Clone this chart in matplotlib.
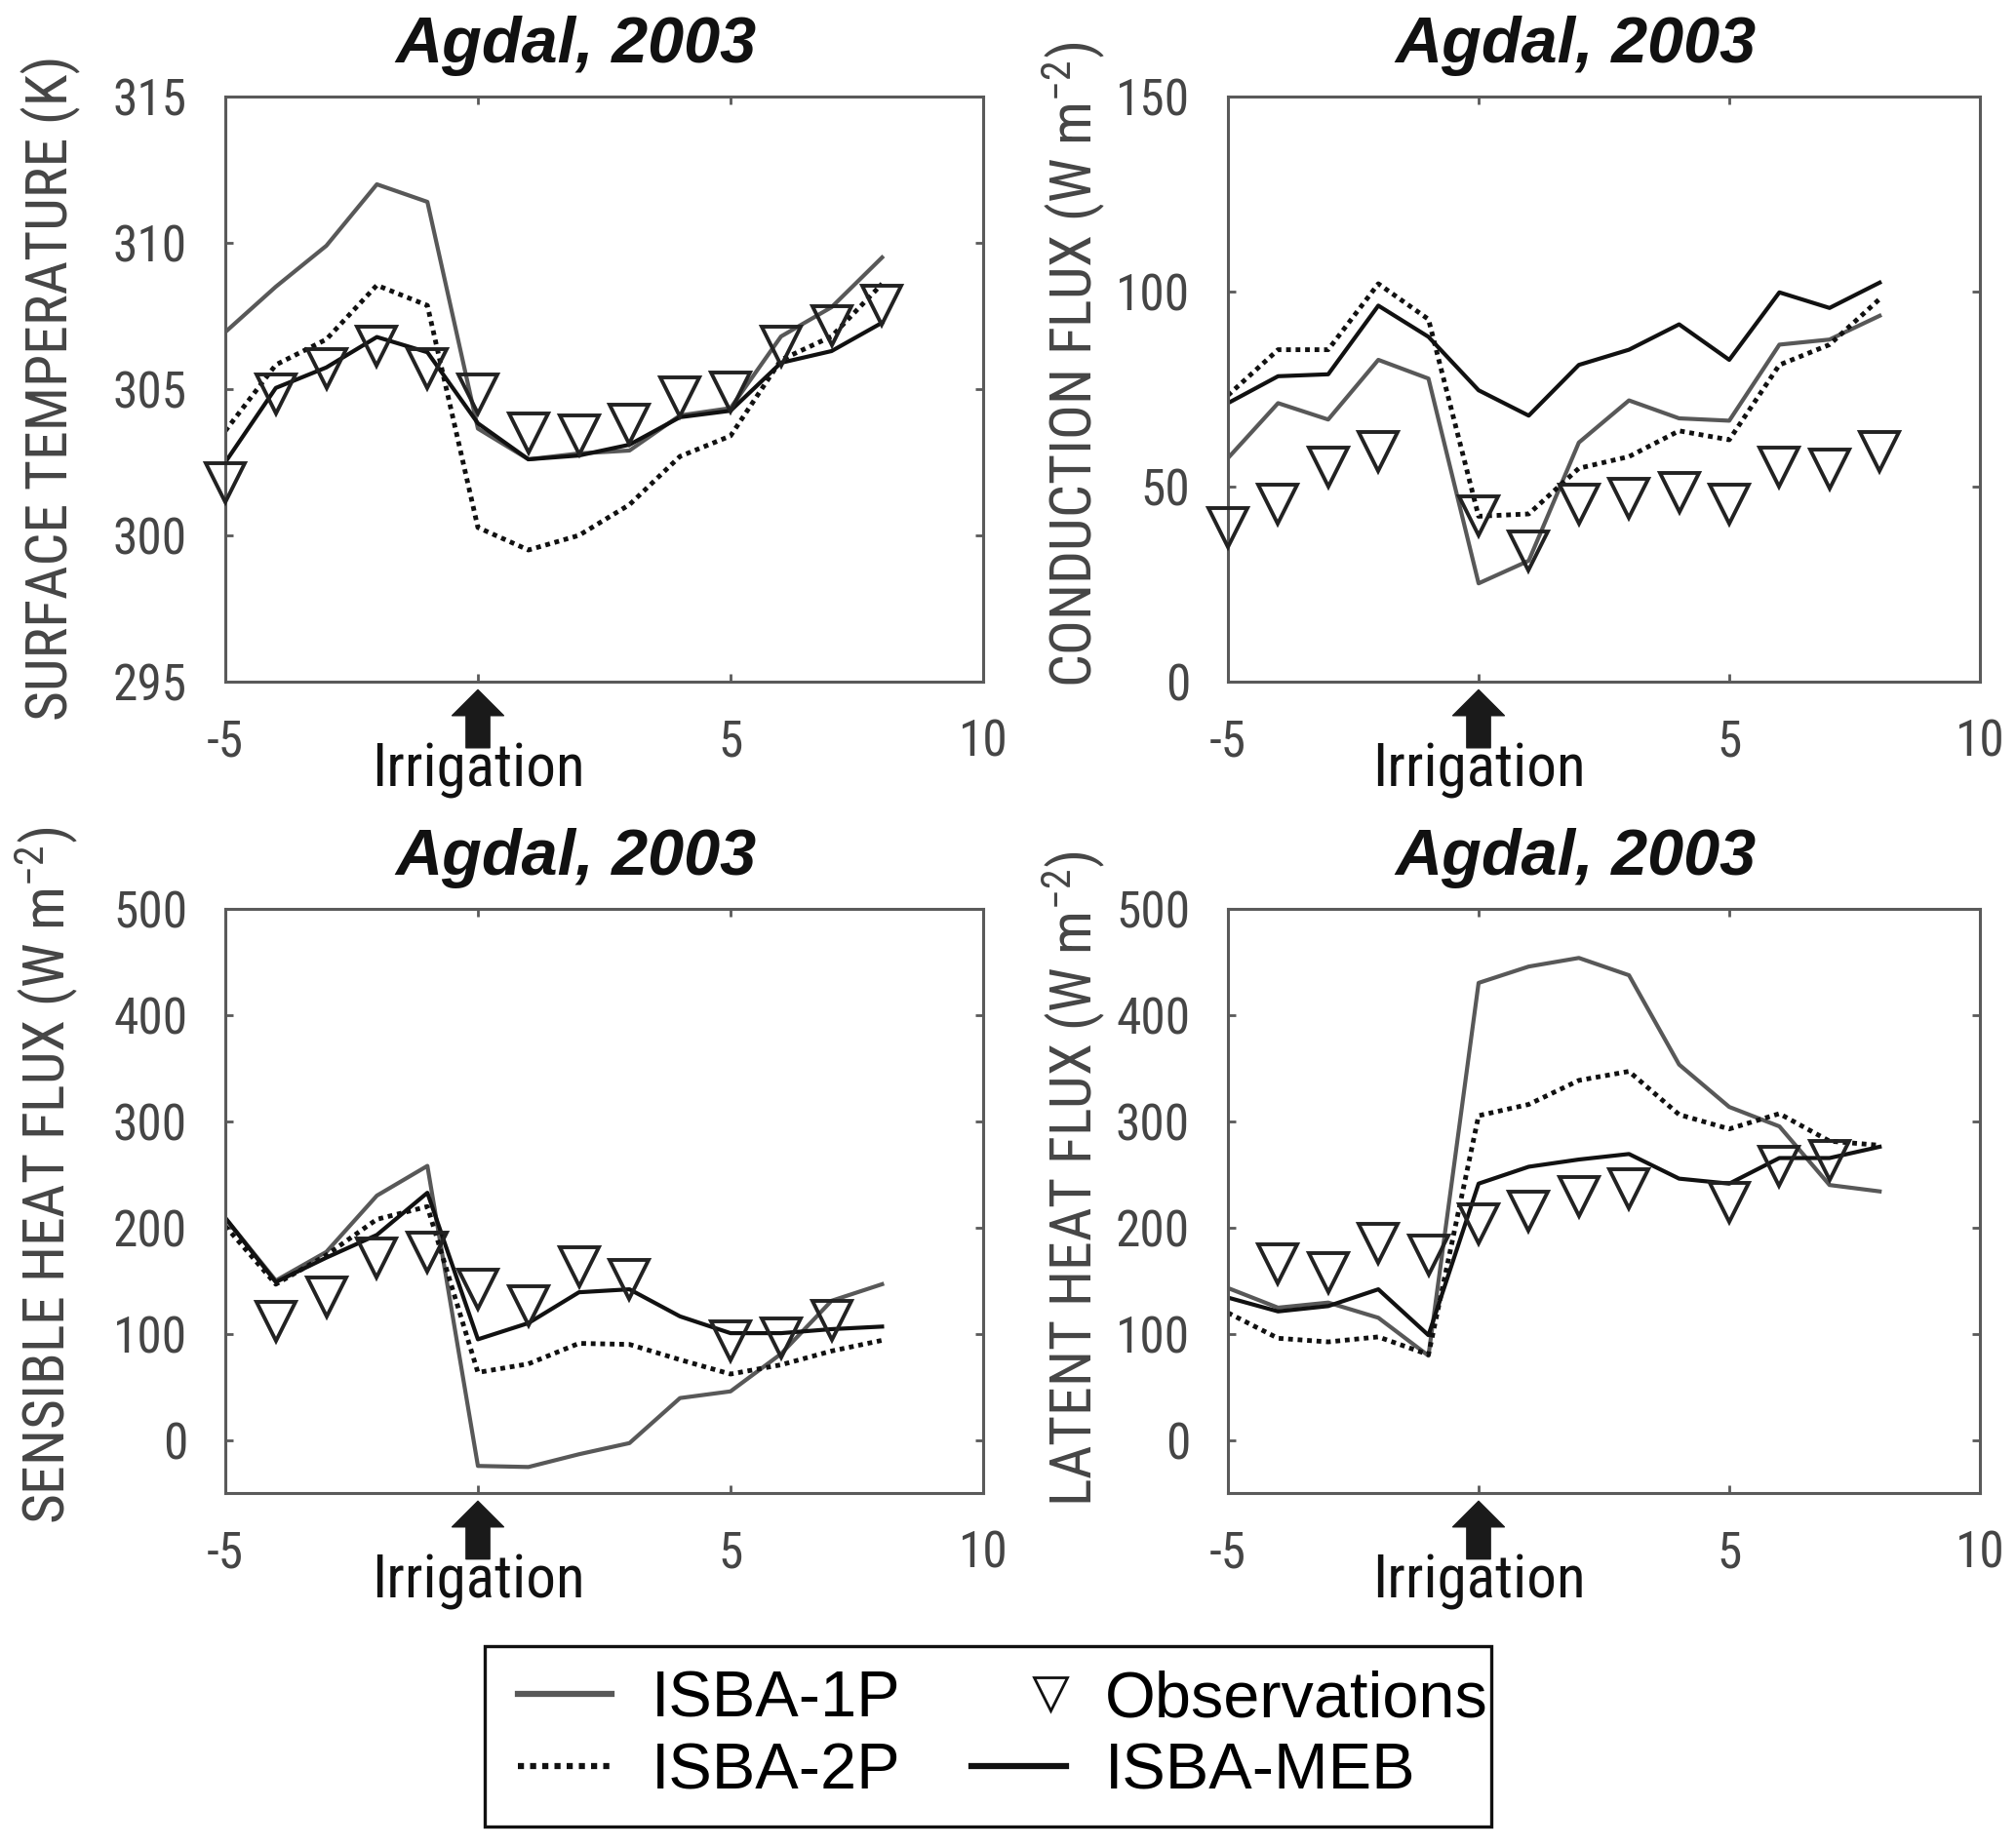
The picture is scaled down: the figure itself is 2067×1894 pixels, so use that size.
import matplotlib
matplotlib.use('Agg')
import matplotlib.pyplot as plt
from matplotlib import font_manager as fm
from matplotlib.lines import Line2D
from matplotlib.patches import Rectangle
from matplotlib.legend_handler import HandlerLine2D

# ---------------- data ----------------
days = [-5, -4, -3, -2, -1, 0, 1, 2, 3, 4, 5, 6, 7, 8]

ts_1p = [306.95, 308.5, 309.9, 312.0, 311.4, 303.65, 302.6, 302.8, 302.9, 304.1, 304.35, 306.8, 307.8, 309.5]
ts_2p = [303.57, 305.83, 306.7, 308.55, 307.86, 300.27, 299.5, 300.0, 301.05, 302.7, 303.4, 306.0, 306.8, 308.6]
ts_meb = [302.5, 305.04, 305.74, 306.78, 306.26, 303.83, 302.6, 302.73, 303.1, 304.04, 304.26, 305.9, 306.3, 307.27]
ts_obs_days = [-5, -4, -3, -2, -1, 0, 1, 2, 3, 4, 5, 6, 7, 8]
ts_obs = [301.8, 304.83, 305.7, 306.47, 305.7, 304.83, 303.5, 303.45, 303.8, 304.75, 304.9, 306.47, 307.16, 307.86]

g_1p = [57.3, 71.4, 67.2, 82.5, 77.7, 25.2, 31.0, 61.3, 72.1, 67.5, 66.9, 86.4, 87.7, 93.8]
g_2p = [73.4, 85.1, 85.1, 102.0, 92.9, 42.4, 43.0, 54.7, 57.7, 64.3, 62.0, 81.2, 86.4, 98.1]
g_meb = [71.4, 78.3, 78.8, 96.4, 88.4, 74.7, 68.2, 81.2, 85.1, 91.6, 82.5, 99.8, 95.8, 102.3]
g_obs_days = [-5, -4, -3, -2, 0, 1, 2, 3, 4, 5, 6, 7, 8]
g_obs = [39.5, 45.6, 54.9, 59.0, 42.5, 33.4, 45.6, 46.9, 48.6, 45.6, 54.9, 54.5, 59.0]

h_1p = [209, 150, 177, 230, 258, -24.5, -25.5, -13.5, -3, 39.4, 45.7, 81, 131, 146.6]
h_2p = [201.4, 146.6, 174, 207.7, 219.7, 63.5, 71.6, 90.9, 89.9, 75.5, 62, 70.7, 83.7, 93.75]
h_meb = [209, 148.6, 171.6, 193, 232.7, 94.7, 110, 139, 141.8, 116.3, 100.5, 100.5, 104.3, 106.7]
h_obs_days = [-4, -3, -2, -1, 0, 1, 2, 3, 5, 6, 7]
h_obs = [111.5, 134.6, 171, 176.4, 142.3, 126.4, 163, 151.4, 92.8, 96, 112.5]

le_1p = [143, 124.5, 129.3, 115, 79.3, 430.3, 445.7, 453.8, 437.5, 353.4, 313.5, 295.2, 240, 234]
le_2p = [119.7, 95.7, 92.3, 97, 80.3, 305.3, 315.9, 338.5, 347, 306.3, 292.8, 307.2, 281.3, 277.4]
le_meb = [134, 121, 126, 141.8, 98.6, 241.3, 257.2, 264, 269.2, 246, 241.3, 265.4, 265.4, 276]
le_obs_days = [-4, -3, -2, -1, 0, 1, 2, 3, 5, 6, 7]
le_obs = [165.9, 157.2, 185, 174, 203.4, 215, 228.8, 236.5, 224, 257.7, 263]

title = 'Agdal, 2003'
ylabels = ['SURFACE TEMPERATURE (K)',
           r'CONDUCTION FLUX (W m$^{-2}$)',
           r'SENSIBLE HEAT FLUX (W m$^{-2}$)',
           r'LATENT HEAT FLUX (W m$^{-2}$)']
xticks = [-5, 0, 5, 10]
xticklabels = ['-5', '', '5', '10']
series_names = ['ISBA-1P', 'ISBA-2P', 'Observations', 'ISBA-MEB']

# ---------------- font choice (narrow face if available) ----------------
entries = fm.fontManager.ttflist
narrow_family, narrow_stretch, scale = None, 'normal', 1.0
preferred = ['Liberation Sans Narrow', 'Arial Narrow', 'Roboto Condensed',
             'Open Sans Condensed', 'Noto Sans Condensed', 'DejaVu Sans Condensed']
names = {e.name for e in entries}
for p in preferred:
    if p in names:
        narrow_family = p
        break
if narrow_family is None:
    for e in entries:
        st = str(e.stretch)
        if e.style == 'normal' and st in ('condensed', 'semi-condensed') \
                and e.name in ('Noto Sans', 'DejaVu Sans', 'Roboto', 'Open Sans', 'Liberation Sans'):
            narrow_family, narrow_stretch = e.name, st
            break
if narrow_family is None:
    narrow_family, scale = 'Liberation Sans', 0.86

TXT = [narrow_family, 'DejaVu Sans']
plt.rcParams['font.family'] = TXT
plt.rcParams['font.stretch'] = narrow_stretch
plt.rcParams['mathtext.fontset'] = 'custom'
plt.rcParams['mathtext.rm'] = narrow_family
plt.rcParams['mathtext.default'] = 'rm'

GRAY_TXT = '#454545'
GRAY_LINE = '#5a5a5a'
C_1P = '#585858'
C_BLK = '#111111'

fig = plt.figure(figsize=(20.67, 18.94), dpi=100)

W, H = 2067.0, 1894.0
boxes = [
    (231, 99, 777, 600),
    (1259, 99, 771, 600),
    (231, 932, 777, 599),
    (1259, 932, 771, 599),
]
panels = [
    (ts_1p, ts_2p, ts_meb, ts_obs_days, ts_obs, (295, 315), [295, 300, 305, 310, 315]),
    (g_1p, g_2p, g_meb, g_obs_days, g_obs, (0, 150), [0, 50, 100, 150]),
    (h_1p, h_2p, h_meb, h_obs_days, h_obs, (-50, 500), [0, 100, 200, 300, 400, 500]),
    (le_1p, le_2p, le_meb, le_obs_days, le_obs, (-50, 500), [0, 100, 200, 300, 400, 500]),
]
label_pos = [(-0.190, 0.502), (-0.160, 0.542), (-0.190, 0.543), (-0.160, 0.538)]

for i, ((p1, p2, pm, od, ob, ylim, yt), (l, t, w, h)) in enumerate(zip(panels, boxes)):
    ax = fig.add_axes([l / W, 1 - (t + h) / H, w / W, h / H])
    ax.plot(days, p1, color=C_1P, lw=3.0)
    ax.plot(days, p2, color=C_BLK, lw=3.5, linestyle=(0, (1.0, 1.0)))
    ax.plot(days, pm, color=C_BLK, lw=3.0)
    ax.plot(od, ob, linestyle='none', marker='v', markersize=29,
            markerfacecolor='none', markeredgecolor='#222222', markeredgewidth=2.8,
            clip_on=False, zorder=5)
    ax.set_xlim(-5, 10)
    ax.set_ylim(*ylim)
    ax.set_xticks(xticks)
    ax.set_xticklabels(xticklabels)
    ax.set_yticks(yt)
    ax.tick_params(direction='in', length=6, width=2, top=True, right=True,
                   labelsize=37 * scale, labelcolor=GRAY_TXT, color=GRAY_LINE)
    ax.tick_params(axis='x', pad=27)
    ax.tick_params(axis='y', pad=28)
    for sp in ax.spines.values():
        sp.set_color(GRAY_LINE)
        sp.set_linewidth(2.2)
    ax.set_title(title, fontsize=48, fontweight='bold', fontstyle='italic',
                 family=['Liberation Sans', 'DejaVu Sans'], color='#111111',
                 pad=25, x=0.462)
    ax.set_ylabel(ylabels[i], fontsize=43 * scale, color=GRAY_TXT)
    ax.yaxis.set_label_coords(*label_pos[i])
    # irrigation arrow
    tr = ax.get_xaxis_transform()
    ax.annotate('', xy=(0, -0.014), xycoords=tr, xytext=(0, -0.113), textcoords=tr,
                arrowprops=dict(arrowstyle='simple,head_width=1.0,head_length=0.5,tail_width=0.46',
                                color='#1a1a1a', mutation_scale=38, shrinkA=0, shrinkB=0),
                annotation_clip=False)
    ax.text(0, -0.152, 'Irrigation', transform=tr, ha='center', va='center',
            fontsize=44 * scale, color='#111111')


class RightMarkerHandler(HandlerLine2D):
    def create_artists(self, legend, orig_handle, xdescent, ydescent, width, height,
                       fontsize, trans):
        arts = super().create_artists(legend, orig_handle, xdescent, ydescent, width,
                                      height, fontsize, trans)
        for a in arts:
            a.set_xdata([x + 0.33 * width for x in a.get_xdata()])
        return arts


handles = [
    Line2D([], [], color=C_1P, lw=4.5),
    Line2D([], [], color=C_BLK, lw=4.5, linestyle=(0, (1.0, 1.0))),
    Line2D([], [], linestyle='none', marker='v', markersize=25, markerfacecolor='none',
           markeredgecolor='#111111', markeredgewidth=2.0),
    Line2D([], [], color=C_BLK, lw=4.5),
]
leg = fig.legend(handles, series_names, ncol=2, loc='center',
                 bbox_to_anchor=(0.4975, 0.0599),
                 prop={'family': ['Liberation Sans', 'DejaVu Sans'], 'size': 48},
                 frameon=False, borderpad=0.3, labelspacing=0.18, handlelength=1.45,
                 handletextpad=0.6, columnspacing=1.1,
                 handler_map={handles[2]: RightMarkerHandler()})
# legend border box
fig.patches.append(Rectangle((497 / W, 1 - 1873 / H), (1529 - 497) / W, (1873 - 1688) / H,
                             transform=fig.transFigure, fill=False, edgecolor='#111111',
                             linewidth=2.4, zorder=0))

fig.savefig('out.png', dpi=100)
